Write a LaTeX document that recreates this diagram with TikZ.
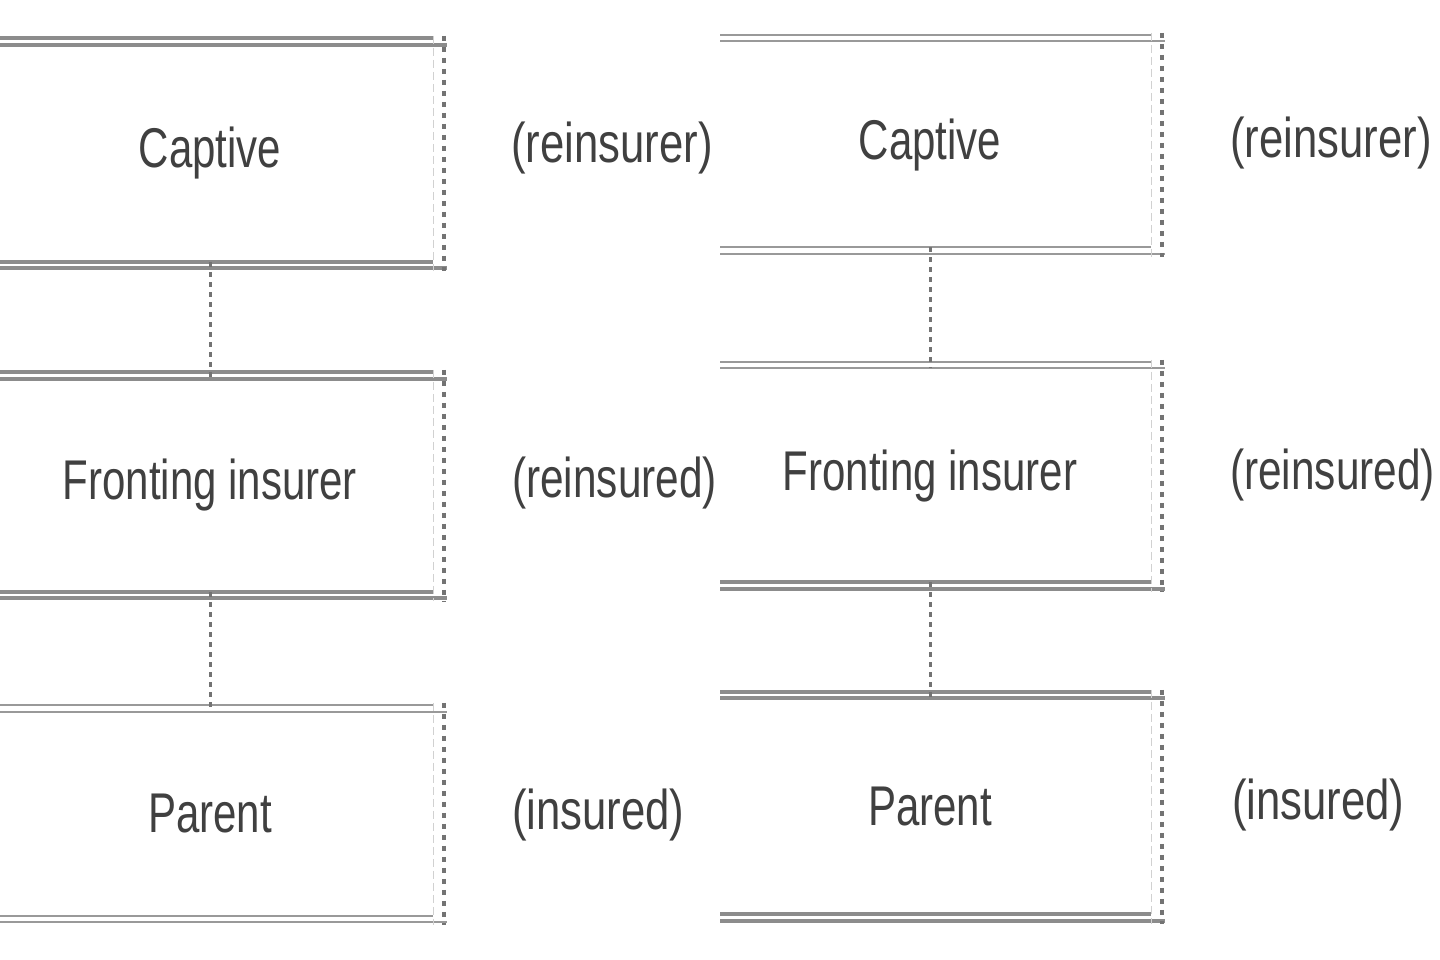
\documentclass[tikz,border=0pt]{standalone}
\usepackage{fontspec}
\setmainfont{Liberation Sans}
\begin{document}
\begin{tikzpicture}[x=1pt,y=-1pt,
  boxnode/.style={minimum width=470pt, inner sep=0pt, font=\fontsize{56}{60}\selectfont, text=black!75},
  lbl/.style={anchor=west, inner sep=0pt, font=\fontsize{56}{60}\selectfont, text=black!75, xscale=0.78},
  thickrule/.style={draw=black!45, line width=4.5pt},
  thinrule/.style={draw=black!40, line width=2.4pt},
  dotedge/.style={draw=black!55, line width=4pt, dash pattern=on 5pt off 6pt},
  faintedge/.style={draw=black!18, line width=1pt, dash pattern=on 8pt off 4pt},
  conn/.style={draw=black!55, line width=3pt, dash pattern=on 5pt off 5pt}]
\fill[white] (0,0) rectangle (1440,960);
\useasboundingbox (0,0) rectangle (1440,960);
% ---------- left panel ----------
\begin{scope}
\clip (0,0) rectangle (718,960);
\node[boxnode, minimum height=223pt] (lb1) at (210,153.5) {\scalebox{0.75}[1]{Captive}};
\node[boxnode, minimum height=219pt] (lb2) at (210,485.5) {\scalebox{0.75}[1]{Fronting insurer}};
\node[boxnode, minimum height=210pt] (lb3) at (210,814) {\scalebox{0.75}[1]{Parent}};
\foreach \b/\s in {lb1/thickrule, lb2/thickrule, lb3/thinrule}{
  \draw[\s] ([yshift=-3pt]\b.north west) -- ([xshift=2pt,yshift=-3pt]\b.north east);
  \draw[\s] ([yshift=4pt]\b.north west) -- ([xshift=-12pt,yshift=4pt]\b.north east);
  \draw[\s] ([yshift=-3pt]\b.south west) -- ([xshift=2pt,yshift=-3pt]\b.south east);
  \draw[\s] ([yshift=3pt]\b.south west) -- ([xshift=-12pt,yshift=3pt]\b.south east);
  \draw[dotedge] ([xshift=-1pt,yshift=6pt]\b.north east) -- ([xshift=-1pt,yshift=-6pt]\b.south east);
  \draw[faintedge] ([xshift=-12pt,yshift=6pt]\b.north east) -- ([xshift=-12pt,yshift=-6pt]\b.south east);
}
\draw[conn] ([yshift=3pt]lb1.south) -- ([yshift=-3pt]lb2.north);
\draw[conn] ([yshift=3pt]lb2.south) -- ([yshift=-3pt]lb3.north);
\node[lbl] (ll1) at (511,148) {(reinsurer)};
\node[lbl, xscale=0.97] (ll2) at (512,483) {(reinsured)};
\node[lbl] (ll3) at (512,815) {(insured)};
\end{scope}
% ---------- right panel ----------
\begin{scope}
\clip (720,0) rectangle (1440,960);
\node[boxnode, minimum width=466pt, minimum height=212pt] (rb1) at (930,145) {\scalebox{0.75}[1]{Captive}};
\node[boxnode, minimum width=466pt, minimum height=220pt] (rb2) at (930,476) {\scalebox{0.75}[1]{Fronting insurer}};
\node[boxnode, minimum width=466pt, minimum height=222pt] (rb3) at (930,807) {\scalebox{0.75}[1]{Parent}};
\foreach \b/\s/\t in {rb1/thinrule/thinrule, rb2/thinrule/thickrule, rb3/thickrule/thickrule}{
  \draw[\s] ([yshift=-2pt]\b.north west) -- ([xshift=2pt,yshift=-2pt]\b.north east);
  \draw[\s] ([yshift=4pt]\b.north west) -- ([xshift=-12pt,yshift=4pt]\b.north east);
  \draw[\t] ([yshift=-3pt]\b.south west) -- ([xshift=2pt,yshift=-3pt]\b.south east);
  \draw[\t] ([yshift=4pt]\b.south west) -- ([xshift=-12pt,yshift=4pt]\b.south east);
  \draw[dotedge] ([xshift=-1pt,yshift=6pt]\b.north east) -- ([xshift=-1pt,yshift=-6pt]\b.south east);
  \draw[faintedge] ([xshift=-12pt,yshift=6pt]\b.north east) -- ([xshift=-12pt,yshift=-6pt]\b.south east);
}
\draw[conn] ([yshift=4pt]rb1.south) -- ([yshift=-2pt]rb2.north);
\draw[conn] ([yshift=4pt]rb2.south) -- ([yshift=-2pt]rb3.north);
\node[lbl] (rl1) at (1230,143) {(reinsurer)};
\node[lbl, xscale=0.97] (rl2) at (1230,475) {(reinsured)};
\node[lbl] (rl3) at (1232,805) {(insured)};
\end{scope}
\end{tikzpicture}
\end{document}
